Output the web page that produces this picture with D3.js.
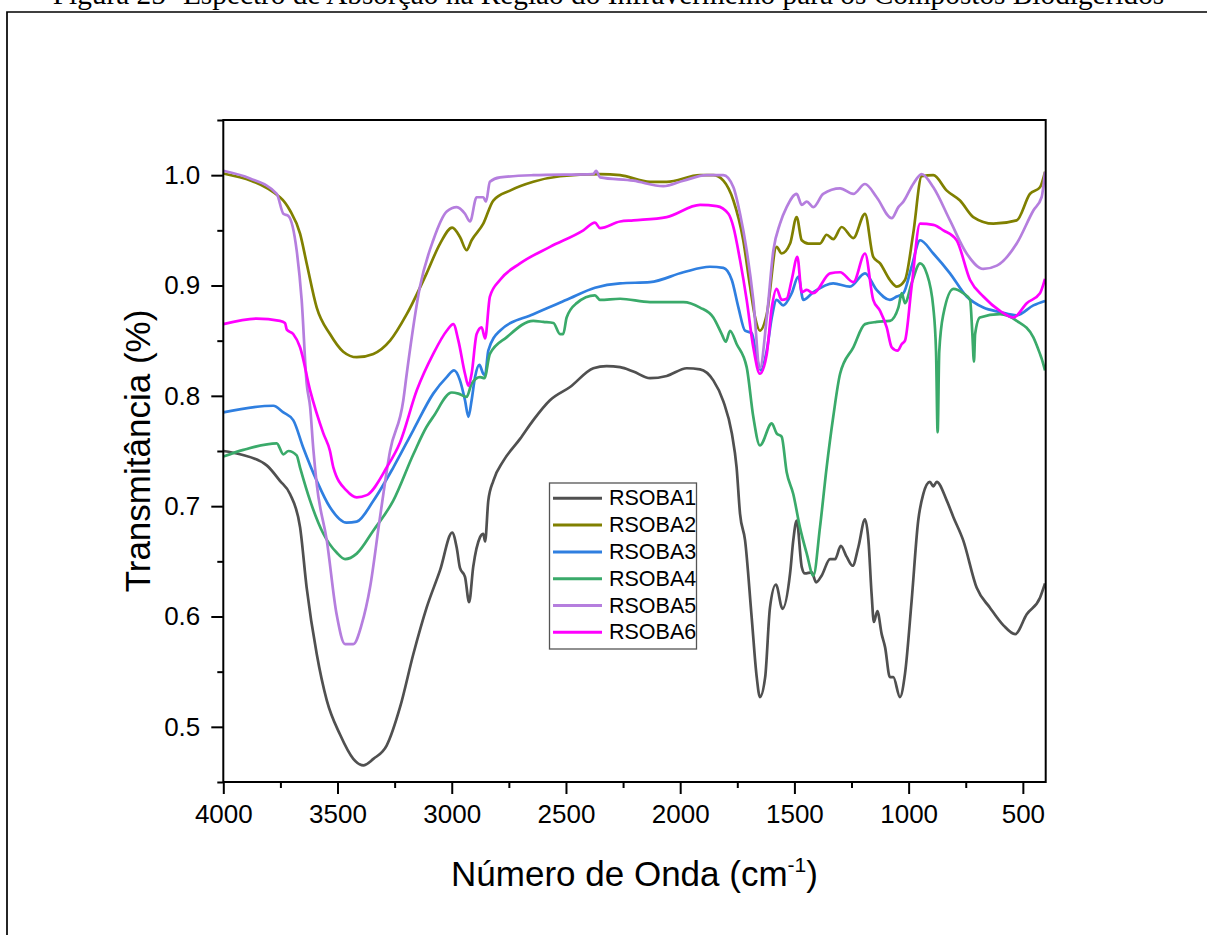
<!DOCTYPE html>
<html>
<head>
<meta charset="utf-8">
<script src="https://cdn.jsdelivr.net/npm/d3@7"></script>
<style>
  html, body { margin: 0; padding: 0; background: #fff; }
  svg { display: block; }
</style>
</head>
<body>
<svg id="chart" width="1207" height="935"></svg>
<script>
// ---------- DATA ----------
const seriesNames = ["RSOBA1", "RSOBA2", "RSOBA3", "RSOBA4", "RSOBA5", "RSOBA6"];
const seriesColors = ["#505050", "#808000", "#2f7fe0", "#3aaa6a", "#b57ede", "#ff00ff"];

const xTicks = [4000, 3500, 3000, 2500, 2000, 1500, 1000, 500];
const xMinorTicks = [3750, 3250, 2750, 2250, 1750, 1250, 750];
const yTicks = [0.5, 0.6, 0.7, 0.8, 0.9, 1.0];
const yMinorTicks = [0.45, 0.55, 0.65, 0.75, 0.85, 0.95, 1.05];

// [wavenumber (cm-1), transmittance]
const rsoba1 = [[4000,0.750],[3927,0.747],[3810,0.737],[3752,0.723],[3708,0.711],[3664,0.681],[3635,0.626],[3591,0.566],[3547,0.524],[3489,0.493],[3431,0.471],[3387,0.465],[3343,0.471],[3285,0.483],[3226,0.518],[3168,0.566],[3110,0.608],[3051,0.642],[2998,0.676],[2978,0.662],[2964,0.644],[2942,0.636],[2924,0.613],[2906,0.645],[2876,0.672],[2862,0.675],[2854,0.668],[2840,0.705],[2818,0.723],[2774,0.741],[2701,0.761],[2643,0.778],[2570,0.796],[2482,0.808],[2380,0.825],[2322,0.827],[2263,0.826],[2205,0.822],[2132,0.816],[2059,0.818],[1971,0.825],[1913,0.824],[1855,0.814],[1811,0.795],[1774,0.766],[1753,0.735],[1738,0.693],[1716,0.669],[1687,0.599],[1665,0.545],[1651,0.527],[1628,0.545],[1607,0.608],[1581,0.629],[1552,0.607],[1519,0.639],[1505,0.669],[1490,0.687],[1468,0.645],[1454,0.639],[1424,0.640],[1405,0.631],[1381,0.637],[1344,0.652],[1322,0.652],[1297,0.664],[1271,0.654],[1245,0.646],[1220,0.663],[1191,0.688],[1176,0.669],[1162,0.620],[1152,0.595],[1137,0.605],[1118,0.584],[1103,0.572],[1082,0.545],[1067,0.545],[1038,0.527],[1016,0.548],[987,0.614],[958,0.687],[936,0.711],[907,0.722],[892,0.718],[877,0.722],[833,0.705],[804,0.690],[761,0.669],[702,0.626],[644,0.608],[585,0.592],[534,0.584],[483,0.602],[425,0.617],[403,0.630]];

const rsoba2 = [[4000,1.0015],[3752,0.980],[3708,0.968],[3664,0.947],[3635,0.920],[3591,0.880],[3533,0.856],[3475,0.840],[3416,0.835],[3343,0.838],[3270,0.850],[3197,0.874],[3110,0.911],[3051,0.938],[2998,0.9525],[2964,0.944],[2935,0.932],[2913,0.941],[2862,0.956],[2818,0.977],[2745,0.986],[2643,0.994],[2526,0.999],[2351,1.001],[2263,1.0],[2132,0.994],[2059,0.994],[1913,1.0],[1855,1.0],[1811,0.995],[1767,0.977],[1724,0.941],[1694,0.899],[1672,0.871],[1651,0.859],[1621,0.874],[1578,0.935],[1556,0.929],[1519,0.938],[1490,0.962],[1468,0.941],[1439,0.938],[1388,0.938],[1359,0.946],[1330,0.942],[1293,0.953],[1242,0.943],[1191,0.965],[1155,0.926],[1125,0.920],[1082,0.905],[1052,0.899],[1016,0.905],[980,0.947],[943,0.999],[892,1.0],[833,0.986],[775,0.977],[717,0.962],[629,0.956],[527,0.959],[469,0.983],[425,0.989],[403,1.003]];

const rsoba3 = [[4000,0.785],[3781,0.791],[3737,0.785],[3694,0.778],[3650,0.753],[3591,0.723],[3533,0.699],[3460,0.685],[3416,0.686],[3343,0.705],[3256,0.735],[3168,0.769],[3081,0.802],[3022,0.817],[2990,0.823],[2964,0.814],[2942,0.796],[2927,0.781],[2913,0.796],[2898,0.817],[2879,0.828],[2862,0.820],[2854,0.819],[2840,0.841],[2789,0.859],[2643,0.874],[2497,0.887],[2373,0.898],[2263,0.902],[2132,0.903],[1986,0.912],[1870,0.917],[1811,0.916],[1774,0.905],[1745,0.880],[1716,0.859],[1687,0.857],[1665,0.835],[1647,0.823],[1621,0.841],[1599,0.871],[1578,0.887],[1549,0.882],[1512,0.893],[1483,0.908],[1461,0.887],[1417,0.894],[1330,0.902],[1257,0.899],[1191,0.911],[1140,0.896],[1082,0.887],[1052,0.890],[1023,0.893],[987,0.917],[950,0.941],[892,0.929],[819,0.911],[746,0.890],[673,0.880],[600,0.876],[527,0.873],[454,0.882],[403,0.886]];

const rsoba4 = [[4000,0.745],[3912,0.751],[3766,0.757],[3737,0.747],[3715,0.750],[3679,0.746],[3664,0.735],[3620,0.705],[3562,0.675],[3504,0.658],[3467,0.652],[3416,0.657],[3343,0.678],[3256,0.705],[3168,0.747],[3110,0.772],[3081,0.781],[3000,0.803],[2971,0.802],[2935,0.799],[2913,0.811],[2876,0.817],[2857,0.816],[2833,0.838],[2760,0.853],[2643,0.868],[2599,0.867],[2555,0.866],[2526,0.856],[2512,0.856],[2497,0.871],[2453,0.884],[2373,0.891],[2351,0.887],[2263,0.888],[2132,0.885],[1986,0.885],[1913,0.880],[1855,0.871],[1818,0.856],[1800,0.849],[1782,0.859],[1753,0.847],[1709,0.826],[1680,0.781],[1651,0.755],[1599,0.775],[1578,0.766],[1556,0.763],[1534,0.731],[1505,0.711],[1476,0.681],[1446,0.657],[1417,0.637],[1388,0.681],[1359,0.735],[1330,0.781],[1300,0.820],[1242,0.844],[1191,0.865],[1140,0.867],[1082,0.868],[1045,0.880],[1030,0.893],[1016,0.884],[987,0.902],[950,0.920],[921,0.911],[892,0.880],[880,0.840],[873,0.767],[866,0.840],[848,0.874],[804,0.897],[761,0.893],[731,0.887],[721,0.856],[714,0.831],[709,0.856],[688,0.871],[600,0.874],[527,0.868],[454,0.853],[425,0.838],[418,0.834],[403,0.823]];

const rsoba5 = [[4000,1.004],[3883,0.997],[3766,0.983],[3737,0.965],[3715,0.963],[3679,0.932],[3657,0.887],[3635,0.811],[3620,0.790],[3606,0.752],[3591,0.720],[3547,0.669],[3504,0.602],[3467,0.575],[3431,0.575],[3394,0.593],[3358,0.626],[3314,0.690],[3270,0.750],[3212,0.796],[3197,0.820],[3139,0.899],[3081,0.941],[3022,0.967],[2978,0.971],[2942,0.965],[2920,0.958],[2891,0.980],[2862,0.980],[2850,0.976],[2833,0.994],[2789,0.998],[2643,1.0],[2380,1.001],[2368,1.004],[2351,0.998],[2205,0.995],[2074,0.990],[1986,0.995],[1884,1.0],[1811,1.0],[1767,0.989],[1738,0.965],[1709,0.932],[1680,0.887],[1651,0.825],[1621,0.871],[1592,0.932],[1563,0.956],[1534,0.971],[1490,0.983],[1468,0.973],[1446,0.976],[1417,0.971],[1374,0.983],[1300,0.988],[1242,0.983],[1191,0.992],[1140,0.980],[1074,0.961],[1045,0.971],[1023,0.976],[980,0.992],[943,1.001],[892,0.989],[819,0.959],[746,0.929],[673,0.915],[614,0.918],[527,0.938],[454,0.968],[418,0.980],[403,1.003]];

const rsoba6 = [[4000,0.865],[3854,0.870],[3752,0.868],[3730,0.866],[3722,0.860],[3694,0.856],[3664,0.844],[3620,0.805],[3562,0.766],[3533,0.750],[3518,0.735],[3460,0.714],[3416,0.708],[3372,0.710],[3285,0.735],[3226,0.758],[3153,0.805],[3081,0.838],[3022,0.859],[2993,0.865],[2971,0.850],[2942,0.820],[2927,0.809],[2913,0.820],[2891,0.856],[2869,0.862],[2854,0.852],[2833,0.890],[2789,0.905],[2701,0.920],[2570,0.935],[2424,0.950],[2373,0.957],[2351,0.952],[2263,0.958],[2205,0.959],[2059,0.962],[1913,0.973],[1840,0.972],[1789,0.965],[1767,0.953],[1738,0.923],[1709,0.887],[1680,0.844],[1651,0.820],[1621,0.838],[1599,0.880],[1578,0.897],[1556,0.887],[1534,0.888],[1512,0.905],[1487,0.926],[1468,0.894],[1446,0.896],[1417,0.893],[1344,0.911],[1300,0.912],[1242,0.903],[1191,0.929],[1155,0.887],[1125,0.877],[1096,0.862],[1074,0.844],[1048,0.841],[1030,0.847],[1016,0.850],[987,0.899],[950,0.956],[892,0.955],[848,0.950],[790,0.941],[731,0.905],[673,0.890],[600,0.877],[541,0.871],[483,0.884],[425,0.893],[403,0.906]];

const seriesData = [rsoba1, rsoba2, rsoba3, rsoba4, rsoba5, rsoba6];

// ---------- DRAWING ----------
const svg = d3.select("#chart");
const sans = "'Liberation Sans', Arial, sans-serif";
const serif = "'Liberation Serif', 'Times New Roman', serif";

const plot = { left: 223.3, right: 1045.7, top: 120, bottom: 782 };
const x = d3.scaleLinear().domain([4000, 400]).range([plot.left, plot.right]);
const y = d3.scaleLinear().domain([0.45, 1.05]).range([plot.bottom, plot.top]);

// page caption (cut at the top, as in the reference) and frame
svg.append("text")
  .attr("x", 608.5).attr("y", 4)
  .attr("text-anchor", "middle")
  .attr("font-family", serif).attr("font-size", 29.3)
  .attr("fill", "#000")
  .text("Figura 25- Espectro de Absorção na Região do Infravermelho para os Compostos Biodigeridos");

svg.append("path")
  .attr("d", "M7,940 V12 H1212")
  .attr("fill", "none").attr("stroke", "#000").attr("stroke-width", 1.7);

// clip
svg.append("defs").append("clipPath").attr("id", "clip")
  .append("rect")
  .attr("x", plot.left).attr("y", plot.top)
  .attr("width", plot.right - plot.left).attr("height", plot.bottom - plot.top);

// series
const line = d3.line()
  .x(d => x(d[0])).y(d => y(d[1]))
  .curve(d3.curveMonotoneX);

const gLines = svg.append("g").attr("clip-path", "url(#clip)");
seriesData.forEach((data, i) => {
  gLines.append("path")
    .datum(data)
    .attr("d", line)
    .attr("fill", "none")
    .attr("stroke", seriesColors[i])
    .attr("stroke-width", 2.7)
    .attr("stroke-linejoin", "round");
});

// axes
const xAxis = svg.append("g")
  .attr("transform", `translate(0,${plot.bottom})`)
  .call(d3.axisBottom(x).tickValues(xTicks).tickSize(12).tickPadding(11).tickSizeOuter(0).tickFormat(d3.format("d")));
const xMinor = svg.append("g")
  .attr("transform", `translate(0,${plot.bottom})`)
  .call(d3.axisBottom(x).tickValues(xMinorTicks).tickSize(6).tickSizeOuter(0).tickFormat(""));
const yAxis = svg.append("g")
  .attr("transform", `translate(${plot.left},0)`)
  .call(d3.axisLeft(y).tickValues(yTicks).tickSize(12).tickPadding(11).tickSizeOuter(0).tickFormat(d3.format(".1f")));
const yMinor = svg.append("g")
  .attr("transform", `translate(${plot.left},0)`)
  .call(d3.axisLeft(y).tickValues(yMinorTicks).tickSize(6).tickSizeOuter(0).tickFormat(""));

[xAxis, xMinor, yAxis, yMinor].forEach(g => {
  g.select(".domain").remove();
  g.selectAll(".tick line").attr("stroke", "#000").attr("stroke-width", 2);
  g.selectAll(".tick text").attr("font-family", sans).attr("font-size", 26).attr("fill", "#000");
});

// plot frame
svg.append("rect")
  .attr("x", plot.left).attr("y", plot.top)
  .attr("width", plot.right - plot.left).attr("height", plot.bottom - plot.top)
  .attr("fill", "none").attr("stroke", "#000").attr("stroke-width", 2);

// axis titles
const xt = svg.append("text")
  .attr("x", (plot.left + plot.right) / 2).attr("y", 886)
  .attr("text-anchor", "middle")
  .attr("font-family", sans).attr("font-size", 35).attr("fill", "#000");
xt.append("tspan").text("Número de Onda (cm");
xt.append("tspan").attr("font-size", 21).attr("dy", -14).text("-1");
xt.append("tspan").attr("dy", 14).text(")");

svg.append("text")
  .attr("transform", `translate(150,${(plot.top + plot.bottom) / 2}) rotate(-90)`)
  .attr("text-anchor", "middle")
  .attr("font-family", sans).attr("font-size", 35).attr("fill", "#000")
  .text("Transmitância (%)");

// legend
const lg = svg.append("g");
lg.append("rect")
  .attr("x", 549.5).attr("y", 483).attr("width", 147).attr("height", 166)
  .attr("fill", "#fff").attr("stroke", "#555").attr("stroke-width", 1.3);
seriesNames.forEach((name, i) => {
  const yy = 498.3 + i * 26.8;
  lg.append("line")
    .attr("x1", 553).attr("x2", 602).attr("y1", yy).attr("y2", yy)
    .attr("stroke", seriesColors[i]).attr("stroke-width", 3);
  lg.append("text")
    .attr("x", 609).attr("y", yy)
    .attr("dominant-baseline", "central")
    .attr("font-family", sans).attr("font-size", 21.5).attr("fill", "#000")
    .text(name);
});
</script>
</body>
</html>
